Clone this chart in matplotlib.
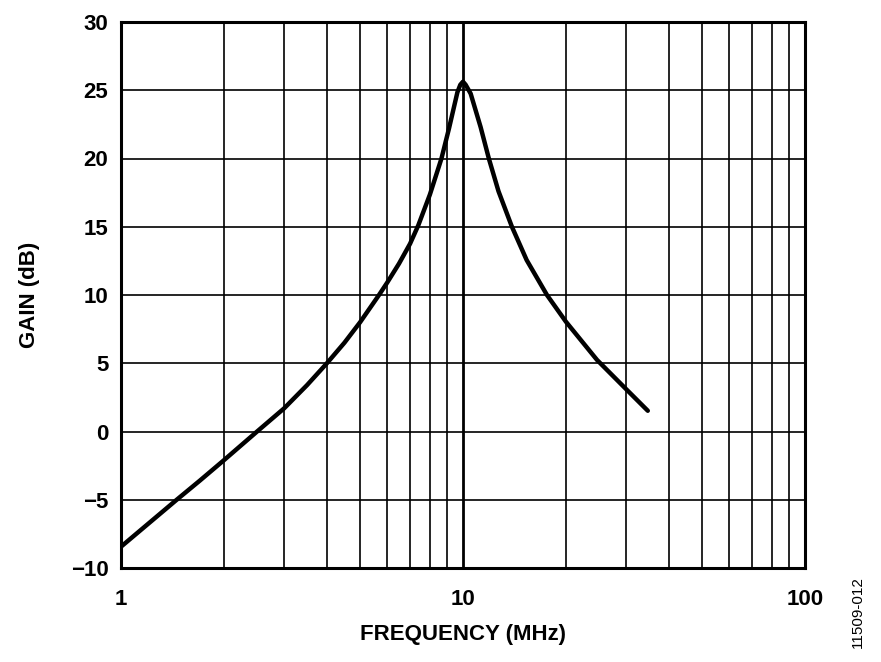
import matplotlib
matplotlib.use("Agg")
import matplotlib.pyplot as plt
from matplotlib.ticker import FixedLocator, NullFormatter

freq_mhz = [1.0, 1.455, 1.7, 2.0, 2.5, 3.0, 3.5, 4.0, 4.5, 5.0, 5.68, 6.0, 6.5,
            7.0, 7.4, 8.0, 8.65, 9.1, 9.63, 9.82, 10.0, 10.18, 10.53, 11.26,
            11.9, 12.7, 13.9, 15.35, 17.6, 20.0, 24.66, 30.0, 34.7]
gain_db = [-8.44, -5.0, -3.6, -2.1, 0.0, 1.7, 3.4, 5.0, 6.5, 8.0, 10.0, 10.9, 12.3,
           13.75, 15.1, 17.35, 20.0, 22.2, 24.85, 25.4, 25.63, 25.4, 24.75, 22.3,
           20.0, 17.6, 15.0, 12.56, 10.0, 8.04, 5.24, 3.1, 1.52]

x_ticks = [1, 10, 100]
x_tick_labels = ["1", "10", "100"]
y_ticks = [-10, -5, 0, 5, 10, 15, 20, 25, 30]
y_tick_labels = ["\u221210", "\u22125", "0", "5", "10", "15", "20", "25", "30"]

plt.rcParams['font.family'] = ['Liberation Sans', 'DejaVu Sans']

fig = plt.figure(figsize=(8.81, 6.62), dpi=100)
ax = fig.add_axes([121/881, 1-568/662, (805-121)/881, (568-22)/662])

ax.plot(freq_mhz, gain_db, color='black', lw=3.2, solid_capstyle='round',
        solid_joinstyle='round', zorder=3)

ax.set_xscale('log')
ax.set_xlim(1, 100)
ax.set_ylim(-10, 30)

minor = [m * d for d in (1, 10) for m in range(2, 10)]
ax.xaxis.set_major_locator(FixedLocator(x_ticks))
ax.xaxis.set_minor_locator(FixedLocator(minor))
ax.xaxis.set_minor_formatter(NullFormatter())
ax.set_xticks(x_ticks)
ax.set_xticklabels(x_tick_labels)
ax.set_yticks(y_ticks)
ax.set_yticklabels(y_tick_labels)

ax.grid(True, which='major', axis='x', color='black', lw=2.0)
ax.grid(True, which='minor', axis='x', color='black', lw=1.2)
ax.grid(True, which='major', axis='y', color='black', lw=1.2)

ax.tick_params(which='both', length=0)
ax.tick_params(axis='x', pad=15, labelsize=16)
ax.tick_params(axis='y', pad=9, labelsize=16)
for lab in ax.get_xticklabels() + ax.get_yticklabels():
    lab.set_fontweight('bold')

for s in ax.spines.values():
    s.set_linewidth(2.2)
    s.set_color('black')

ax.set_xlabel("FREQUENCY (MHz)", fontsize=16, fontweight='bold', labelpad=10)
ax.set_ylabel("GAIN (dB)", fontsize=16, fontweight='bold', labelpad=22)

fig.text(858/881, 1-612/662, "11509-012", rotation=90, fontsize=11,
         ha='center', va='center')

fig.savefig("out.png", dpi=100)
